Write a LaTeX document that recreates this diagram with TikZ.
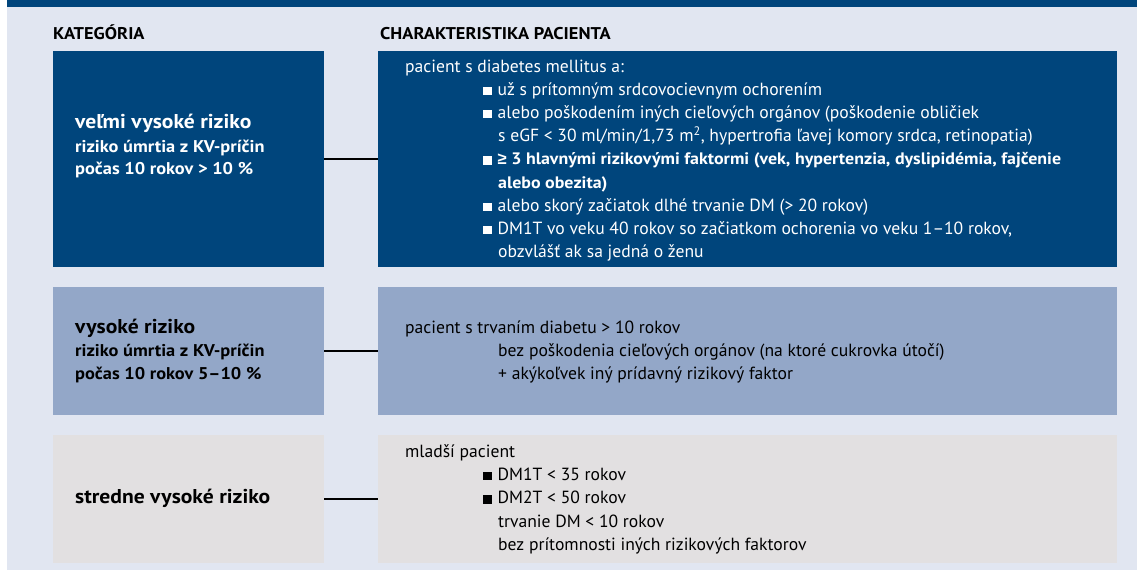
\documentclass[tikz,border=0pt]{standalone}
\usepackage{fontspec}
\setmainfont{PT Sans}[BoldFeatures={FakeStretch=1.08}]
\newfontfamily\znakfont{Liberation Sans}
\usetikzlibrary{positioning}
\definecolor{tmavomodra}{RGB}{0,69,124}
\definecolor{stredomodra}{RGB}{147,167,200}
\definecolor{svetlosiva}{RGB}{226,224,225}
\definecolor{pozadie}{RGB}{225,230,241}
\newcommand{\odr}{\rule{8.5pt}{8.5pt}\hspace{6pt}}
\tikzset{
  katbox/.style={anchor=north west, inner sep=0, minimum width=271},
  charbox/.style={anchor=north west, inner sep=0, minimum width=739},
  riadok/.style={anchor=base west, inner sep=0, font=\fontsize{17.6}{20}\selectfont},
  tucny/.style={anchor=base west, inner sep=0, font=\fontsize{16.6}{20}\selectfont\bfseries},
  nadpis/.style={anchor=base west, inner sep=0, font=\fontsize{20}{23}\selectfont\bfseries},
  podnadpis/.style={anchor=base west, inner sep=0, font=\fontsize{17}{20}\selectfont\bfseries},
  spoj/.style={line width=1.8}
}
\begin{document}
\begin{tikzpicture}[x=1pt,y=-1pt]
  \useasboundingbox (0,0) rectangle (1137,571);
  \fill[pozadie] (7,7) rectangle (1137,570); %pozadie
  \fill[tmavomodra] (7,0) rectangle (1137,7); %horny pruh

  \node[podnadpis] (hkat) at (53,39) {KATEGÓRIA};
  \node[podnadpis] (hchar) at (380,39) {CHARAKTERISTIKA PACIENTA};

  %velmi vysoke riziko
  \node[katbox, fill=tmavomodra, minimum height=216] (kat1) at (53,51) {};
  \node[charbox, fill=tmavomodra, minimum height=216] (char1) at (378,51) {};
  \draw[spoj] (kat1.east) -- (char1.west);
  \node[nadpis, text=white] (k11) at (75,128) {veľmi vysoké riziko};
  \node[podnadpis, text=white] (k12) at (75,152) {riziko úmrtia z KV-príčin};
  \node[podnadpis, text=white] (k13) at (75,174) {počas 10 rokov > 10 \%};
  \node[riadok, text=white] (c11) at (405,72) {pacient s diabetes mellitus a:};
  \node[riadok, text=white] (c12) at (483,95.2) {\odr už s prítomným srdcovocievnym ochorením};
  \node[riadok, text=white] (c13) at (483,118.4) {\odr alebo poškodením iných cieľových orgánov (poškodenie obličiek};
  \node[riadok, text=white] (c14) at (498,141.6) {s eGF < 30 ml/min/1,73 m\textsuperscript{2}, hypertrofia ľavej komory srdca, retinopatia)};
  \node[tucny, text=white] (c15) at (483,164.8) {\odr{\znakfont ≥} 3 hlavnými rizikovými faktormi (vek, hypertenzia, dyslipidémia, fajčenie};
  \node[tucny, text=white] (c16) at (498,188) {alebo obezita)};
  \node[riadok, text=white] (c17) at (483,211.2) {\odr alebo skorý začiatok dlhé trvanie DM (> 20 rokov)};
  \node[riadok, text=white] (c18) at (483,234.4) {\odr DM1T vo veku 40 rokov so začiatkom ochorenia vo veku 1–10 rokov,};
  \node[riadok, text=white] (c19) at (498,257.6) {obzvlášť ak sa jedná o ženu};

  %vysoke riziko
  \node[katbox, fill=stredomodra, minimum height=128] (kat2) at (53,287) {};
  \node[charbox, fill=stredomodra, minimum height=128] (char2) at (378,287) {};
  \draw[spoj] (kat2.east) -- (char2.west);
  \node[nadpis] (k21) at (75,333) {vysoké riziko};
  \node[podnadpis] (k22) at (75,356) {riziko úmrtia z KV-príčin};
  \node[podnadpis] (k23) at (75,379) {počas 10 rokov 5–10 \%};
  \node[riadok] (c21) at (405,333) {pacient s trvaním diabetu > 10 rokov};
  \node[riadok] (c22) at (498,356) {bez poškodenia cieľových orgánov (na ktoré cukrovka útočí)};
  \node[riadok] (c23) at (498,379) {+ akýkoľvek iný prídavný rizikový faktor};

  %stredne vysoke riziko
  \node[katbox, fill=svetlosiva, minimum height=128] (kat3) at (53,435) {};
  \node[charbox, fill=svetlosiva, minimum height=128] (char3) at (378,435) {};
  \draw[spoj] (kat3.east) -- (char3.west);
  \node[nadpis] (k31) at (75,503) {stredne vysoké riziko};
  \node[riadok] (c31) at (405,457) {mladší pacient};
  \node[riadok] (c32) at (483,480.4) {\odr DM1T < 35 rokov};
  \node[riadok] (c33) at (483,503.8) {\odr DM2T < 50 rokov};
  \node[riadok] (c34) at (498,527.2) {trvanie DM < 10 rokov};
  \node[riadok] (c35) at (498,550.6) {bez prítomnosti iných rizikových faktorov};
\end{tikzpicture}
\end{document}
